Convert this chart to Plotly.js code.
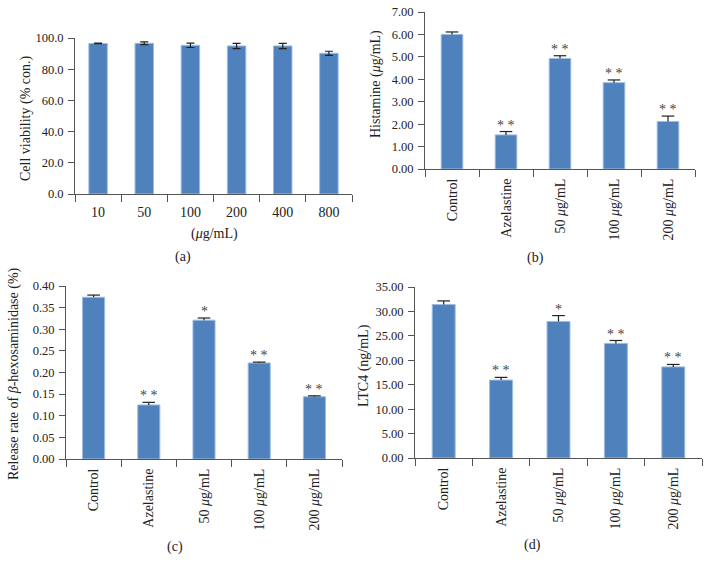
<!DOCTYPE html>
<html>
<head>
<meta charset="utf-8">
<script src="https://cdn.plot.ly/plotly-3.0.1.min.js"></script>
<style>html,body{margin:0;padding:0;background:#fff;}#chart{width:711px;height:572px;}</style>
</head>
<body>
<div id="chart"></div>
<script>
// Panel (a): cell viability
const catsA = ['10', '50', '100', '200', '400', '800'];
const valA = [96.5, 96.6, 95.3, 94.9, 94.9, 90.2];
const errA = [0.2, 0.9, 1.4, 1.7, 1.7, 1.3];

// Shared categories for (b), (c), (d)
const catsT = ['Control', 'Azelastine', '50 <i>μ</i>g/mL', '100 <i>μ</i>g/mL', '200 <i>μ</i>g/mL'];

// Panel (b): histamine
const valB = [6.00, 1.52, 4.93, 3.85, 2.12];
const errB = [0.11, 0.15, 0.12, 0.12, 0.24];
const sigB = ['', '* *', '* *', '* *', '* *'];

// Panel (c): beta-hexosaminidase release
const valC = [0.374, 0.125, 0.321, 0.222, 0.144];
const errC = [0.005, 0.006, 0.005, 0.002, 0.002];
const sigC = ['', '* *', '*', '* *', '* *'];

// Panel (d): LTC4
const valD = [31.4, 15.95, 27.95, 23.45, 18.65];
const errD = [0.75, 0.55, 1.2, 0.6, 0.5];
const sigD = ['', '* *', '*', '* *', '* *'];

const FONT = '"Liberation Serif", "Times New Roman", Times, serif';
const BAR = '#4f81bd';
const AX = '#555555';
const ERR = '#222222';

function barTrace(x, y, err, xa, ya, sym) {
  return {
    type: 'bar', x: x, y: y, xaxis: xa, yaxis: ya,
    marker: {color: BAR, line: {color: '#9dbbe0', width: 1}},
    width: 0.4,
    error_y: sym ? {type: 'data', array: err, symmetric: true, color: ERR, thickness: 1.2, width: 4}
                 : {type: 'data', array: err, arrayminus: err.map(() => 0), symmetric: false, color: ERR, thickness: 1.2, width: 0},
    hoverinfo: 'x+y', showlegend: false
  };
}
// cap on top of one-sided error bars
function capTrace(x, y, err, xa, ya) {
  return {
    type: 'scatter', mode: 'markers', x: x, y: y.map((v, i) => v + err[i]),
    xaxis: xa, yaxis: ya,
    marker: {symbol: 'line-ew-open', size: 9, color: ERR, line: {color: ERR, width: 1.2}},
    hoverinfo: 'skip', showlegend: false
  };
}

const data = [
  barTrace(catsA, valA, errA, 'x', 'y', true),
  barTrace(catsT, valB, errB, 'x2', 'y2', false),
  capTrace(catsT, valB, errB, 'x2', 'y2'),
  barTrace(catsT, valC, errC, 'x3', 'y3', false),
  capTrace(catsT, valC, errC, 'x3', 'y3'),
  barTrace(catsT, valD, errD, 'x4', 'y4', false),
  capTrace(catsT, valD, errD, 'x4', 'y4')
];

function xax(domain, anchor, angle, standoff) {
  return {
    domain: domain, anchor: anchor, type: 'category',
    showline: true, linecolor: AX, linewidth: 1,
    ticks: 'outside', ticklen: 7, tickcolor: AX, tickson: 'boundaries',
    tickangle: angle, showgrid: false, zeroline: false,
    ticklabelstandoff: standoff,
    tickfont: {family: FONT, size: 14, color: '#222'},
    fixedrange: true
  };
}
function yax(domain, anchor, range, dtick, fmt) {
  return {
    domain: domain, anchor: anchor, range: range, dtick: dtick, tickformat: fmt,
    showline: true, linecolor: AX, linewidth: 1,
    ticks: 'outside', ticklen: 6, tickcolor: AX,
    showgrid: false, zeroline: false,
    ticklabelstandoff: 2,
    tickfont: {family: FONT, size: 12.5, color: '#222'},
    fixedrange: true
  };
}

const annotations = [];
function sig(cats, vals, errs, marks, xa, ya) {
  cats.forEach((c, i) => {
    if (!marks[i]) return;
    annotations.push({
      x: c, y: vals[i] + errs[i], xref: xa, yref: ya,
      text: marks[i], showarrow: false, yanchor: 'bottom', yshift: -3,
      font: {family: FONT, size: 14, color: '#444'}
    });
  });
}
sig(catsT, valB, errB, sigB, 'x2', 'y2');
sig(catsT, valC, errC, sigC, 'x3', 'y3');
sig(catsT, valD, errD, sigD, 'x4', 'y4');

function paperText(text, x, y, angle, size) {
  annotations.push({
    text: text, x: x / 711, y: 1 - y / 572, xref: 'paper', yref: 'paper',
    showarrow: false, textangle: angle, xanchor: 'center', yanchor: 'middle',
    font: {family: FONT, size: size, color: '#222'}
  });
}
paperText('Cell viability (% con.)', 26, 118, -90, 14);
paperText('(<i>μ</i>g/mL)', 214, 234, 0, 14);
paperText('(a)', 183, 257, 0, 14);
paperText('Histamine (<i>μ</i>g/mL)', 376, 84, -90, 14);
paperText('(b)', 535, 258, 0, 14);
paperText('Release rate of <i>β</i>-hexosaminidase (%)', 14, 374, -90, 14);
paperText('(c)', 175, 547, 0, 14);
paperText('LTC4 (ng/mL)', 364, 366, -90, 14);
paperText('(d)', 532, 545, 0, 14);

const W = 711, H = 572;
const layout = {
  width: W, height: H,
  margin: {l: 0, r: 0, t: 0, b: 0},
  paper_bgcolor: '#fff', plot_bgcolor: 'rgba(0,0,0,0)',
  bargap: 0.6,
  font: {family: FONT, color: '#222'},
  xaxis:  xax([75 / W, 352 / W], 'y', 0, 5),
  yaxis:  yax([1 - 194 / H, 1 - 38 / H], 'x', [0, 100], 20, '.1f'),
  xaxis2: xax([425 / W, 695 / W], 'y2', -90, 3),
  yaxis2: yax([1 - 169 / H, 1 - 12 / H], 'x2', [0, 7], 1, '.2f'),
  xaxis3: xax([66 / W, 342 / W], 'y3', -90, 3),
  yaxis3: yax([1 - 459 / H, 1 - 286 / H], 'x3', [0, 0.4], 0.05, '.2f'),
  xaxis4: xax([415 / W, 702 / W], 'y4', -90, 3),
  yaxis4: yax([1 - 458 / H, 1 - 287 / H], 'x4', [0, 35], 5, '.2f'),
  annotations: annotations
};

Plotly.newPlot('chart', data, layout, {displayModeBar: false, staticPlot: true});
</script>
</body>
</html>
